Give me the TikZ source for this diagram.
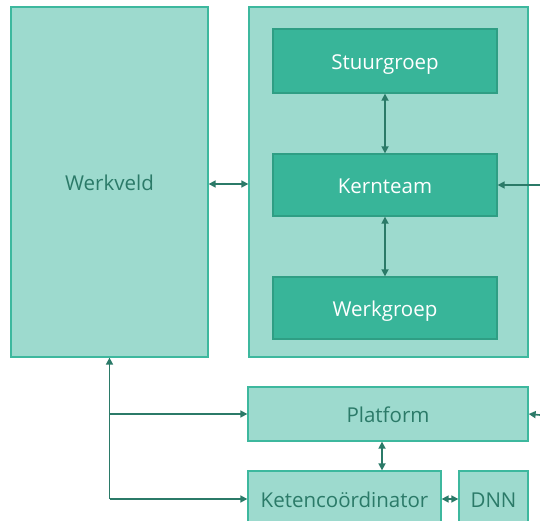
\documentclass[tikz,border=0pt]{standalone}
\usepackage{fontspec}
\setmainfont{Open Sans}
\usetikzlibrary{arrows.meta}
\definecolor{lightfill}{HTML}{9DDACE}
\definecolor{lightdraw}{HTML}{3DB89E}
\definecolor{darkfill}{HTML}{38B599}
\definecolor{darkdraw}{HTML}{2F9E84}
\definecolor{txtdark}{HTML}{2B7A68}
\definecolor{arrowc}{HTML}{2B7A68}
\begin{document}
\begin{tikzpicture}[x=1pt,y=-1pt,
  boxbase/.style={line width=1.3pt,inner sep=0pt,text height=20pt,text depth=3pt,
    font=\fontsize{20.5}{22}\selectfont},
  lightbox/.style={boxbase,draw=lightdraw,fill=lightfill,text=txtdark},
  darkbox/.style={boxbase,draw=darkdraw,fill=darkfill,text=white},
  conn/.style={draw=arrowc,line width=1.6pt},
  tip/.style={-{Triangle[length=7pt,width=7pt]}},
  bitip/.style={{Triangle[length=7pt,width=7pt]}-{Triangle[length=7pt,width=7pt]}}]
\useasboundingbox (0,0) rectangle (540,521);
\begin{scope}
\clip (0,0) rectangle (540,521);
\node[lightbox,minimum width=197pt,minimum height=350pt] (werkveld) at (109.5,182) {Werkveld};
\node[lightbox,minimum width=279pt,minimum height=350pt] (container) at (388.5,182) {};
\node[darkbox,minimum width=224pt,minimum height=64pt] (stuur) at (385,61) {Stuurgroep};
\node[darkbox,minimum width=224pt,minimum height=62pt] (kern) at (385,185) {Kernteam};
\node[darkbox,minimum width=224pt,minimum height=62pt] (werkgroep) at (385,308) {Werkgroep};
\node[lightbox,minimum width=280pt,minimum height=54pt] (platform) at (388,414) {Platform};
\node[lightbox,minimum width=193pt,minimum height=56pt] (keten) at (344.5,499) {Ketencoördinator};
\node[lightbox,minimum width=69pt,minimum height=56pt] (dnn) at (493.5,499) {DNN};
\coordinate (rk) at (540,185);
\coordinate (rp) at (540,415);
\coordinate (jp) at (werkveld.south |- platform.west);
\coordinate (jk) at (werkveld.south |- keten.west);

\draw[conn,bitip] (werkveld.east |- 0,184) -- (container.west |- 0,184);
\draw[conn,bitip] (stuur.south) -- (kern.north);
\draw[conn,bitip] (kern.south) -- (werkgroep.north);
\draw[conn,tip] (rk) -- (kern.east);
\draw[conn,tip] (rp) -- (platform.east);
\draw[conn,bitip] (platform.south -| 382,0) -- (keten.north -| 382,0);
\draw[conn,bitip] (keten.east) -- (dnn.west);
\draw[conn,tip] (jk) -- (werkveld.south);
\draw[conn,tip] (jp) -- (platform.west);
\draw[conn,tip] (jk) -- (keten.west);
\end{scope}
\end{tikzpicture}
\end{document}
